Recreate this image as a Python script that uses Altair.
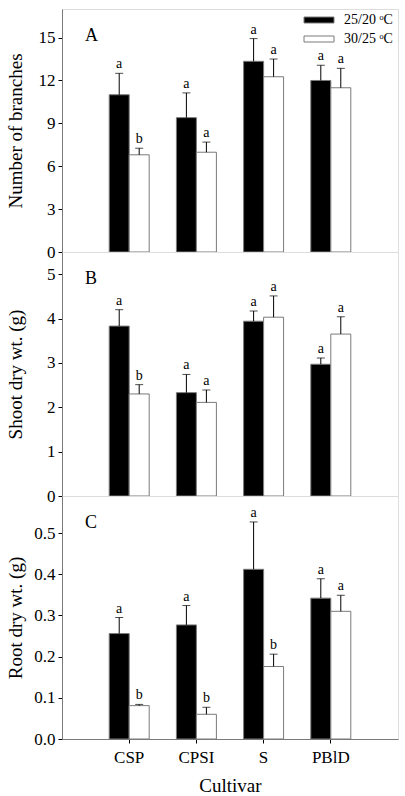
import altair as alt
import pandas as pd

cultivars = ["CSP", "CPSI", "S", "PBlD"]
temps = ["25/20 ᵒC", "30/25 ᵒC"]

# Panel A: number of branches
branch_hi = [11.0, 9.4, 13.34, 12.0]
branch_hi_err = [1.5, 1.73, 1.59, 1.06]
branch_hi_let = ["a", "a", "a", "a"]
branch_lo = [6.8, 6.98, 12.26, 11.49]
branch_lo_err = [0.46, 0.71, 1.24, 1.36]
branch_lo_let = ["b", "a", "a", "a"]

# Panel B: shoot dry wt
shoot_hi = [3.83, 2.33, 3.94, 2.97]
shoot_hi_err = [0.37, 0.41, 0.23, 0.14]
shoot_hi_let = ["a", "a", "a", "a"]
shoot_lo = [2.30, 2.11, 4.03, 3.65]
shoot_lo_err = [0.21, 0.28, 0.48, 0.39]
shoot_lo_let = ["b", "a", "a", "a"]

# Panel C: root dry wt
root_hi = [0.256, 0.277, 0.412, 0.342]
root_hi_err = [0.039, 0.047, 0.115, 0.047]
root_hi_let = ["a", "a", "a", "a"]
root_lo = [0.081, 0.060, 0.176, 0.310]
root_lo_err = [0.003, 0.017, 0.030, 0.039]
root_lo_let = ["b", "b", "b", "a"]

FONT = "Liberation Serif"
GRAY = "#7a7a7a"


def make_df(hi, hi_err, hi_let, lo, lo_err, lo_let):
    rows = []
    for i, c in enumerate(cultivars):
        rows.append(dict(cultivar=c, temp=temps[0], value=hi[i],
                         upper=hi[i] + hi_err[i], letter=hi_let[i]))
        rows.append(dict(cultivar=c, temp=temps[1], value=lo[i],
                         upper=lo[i] + lo_err[i], letter=lo_let[i]))
    return pd.DataFrame(rows)


def panel(df, ytitle, domain, ticks, fmt, tag, height, show_x, show_legend):
    xscale = alt.Scale(domain=cultivars, paddingInner=0.405, paddingOuter=0.7025)
    if show_x:
        xaxis = alt.Axis(title="Cultivar", labelAngle=0, labelFont=FONT, labelFontSize=17,
                         titleFont=FONT, titleFontSize=19, titleFontWeight="normal",
                         labelColor="black", titleColor="black",
                         domainColor=GRAY, tickColor="black", tickSize=4,
                         labelPadding=6, titlePadding=11)
    else:
        xaxis = None
    x = alt.X("cultivar:N", scale=xscale, axis=xaxis, sort=cultivars)
    xo = alt.XOffset("temp:N", scale=alt.Scale(domain=temps, paddingInner=0, paddingOuter=0),
                     sort=temps)
    yscale = alt.Scale(domain=domain, nice=False, zero=True)
    yaxis = alt.Axis(title=ytitle, values=ticks, format=fmt, grid=False,
                     labelFont=FONT, labelFontSize=17, labelColor="black",
                     titleFont=FONT, titleFontSize=19, titleFontWeight="normal",
                     titleColor="black", domainColor=GRAY, tickColor="black",
                     tickSize=4, labelPadding=3, titleX=-47, titleBaseline="middle")
    if show_legend:
        legend = alt.Legend(title=None, orient="none", legendX=250, legendY=4,
                            symbolType="M-3,-0.6H3V0.6H-3Z", symbolSize=100,
                            symbolStrokeColor=GRAY, symbolStrokeWidth=1,
                            labelFont=FONT, labelFontSize=14, labelColor="black",
                            labelOffset=18, rowPadding=5, padding=0)
    else:
        legend = None
    color = alt.Color("temp:N", scale=alt.Scale(domain=temps, range=["black", "white"]),
                      legend=legend, sort=temps)
    base = alt.Chart(df)
    bars = base.mark_bar(stroke=GRAY, strokeWidth=1).encode(
        x=x, xOffset=xo, y=alt.Y("value:Q", scale=yscale, axis=yaxis), color=color)
    rule = base.mark_rule(color="black", strokeWidth=1).encode(
        x=x, xOffset=xo, y="value:Q", y2="upper:Q")
    cap = base.mark_tick(color="black", thickness=1, size=8, orient="horizontal").encode(
        x=x, xOffset=xo, y="upper:Q")
    lett = base.mark_text(font=FONT, fontSize=14, baseline="bottom", dy=-2,
                          color="black").encode(
        x=x, xOffset=xo, y="upper:Q", text="letter:N")
    lab = alt.Chart(pd.DataFrame({"t": [tag]})).mark_text(
        font=FONT, fontSize=18, align="left", baseline="middle", color="black").encode(
        x=alt.value(23), y=alt.value(27), text="t:N")
    return alt.layer(bars, rule, cap, lett, lab).properties(width=336, height=height)


pa = panel(make_df(branch_hi, branch_hi_err, branch_hi_let, branch_lo, branch_lo_err, branch_lo_let),
           "Number of branches", [0, 17], [0, 3, 6, 9, 12, 15], "d", "A", 243, False, True)
pb = panel(make_df(shoot_hi, shoot_hi_err, shoot_hi_let, shoot_lo, shoot_lo_err, shoot_lo_let),
           "Shoot dry wt. (g)", [0, 5.5], [0, 1, 2, 3, 4, 5], "d", "B", 244, False, False)
pc = panel(make_df(root_hi, root_hi_err, root_hi_let, root_lo, root_lo_err, root_lo_let),
           "Root dry wt. (g)", [0, 0.59], [0, 0.1, 0.2, 0.3, 0.4, 0.5], ".1f", "C", 243, True, False)

chart = alt.vconcat(pa, pb, pc, spacing=0, bounds="flush").resolve_scale(color="independent").properties(
    padding={"left": 5, "top": 8, "right": 4, "bottom": 4}
).configure_view(stroke=GRAY, strokeWidth=1).configure(background="white")

chart.save("out.html", embed_options={"renderer": "svg", "actions": False})
